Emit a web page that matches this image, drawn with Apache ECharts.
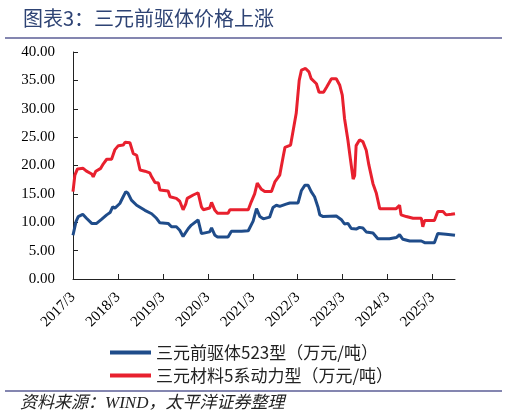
<!DOCTYPE html>
<html><head><meta charset="utf-8">
<script src="https://cdn.jsdelivr.net/npm/echarts@6/dist/echarts.min.js"></script>
<style>html,body{margin:0;padding:0;background:#fff}#c{width:507px;height:418px}</style>
</head><body><div id="c"></div>
<script>
// x positions are months elapsed since 2017/3
const xTickLabels = ['2017/3','2018/3','2019/3','2020/3','2021/3','2022/3','2023/3','2024/3','2025/3'];
const seriesNames = ['三元前驱体523型（万元/吨）','三元材料5系动力型（万元/吨）'];

const blueMonths = [0,0.8,1.4,2.6,3.6,5.0,6.3,7.6,9.0,9.9,10.6,11.2,12.5,13.4,14.1,14.7,15.6,17.0,19.2,21.0,22.3,23.2,25.4,26.3,27.6,28.5,29.4,29.9,30.8,31.6,33.4,34.3,34.8,36.5,37.0,37.9,38.6,41.4,42.3,45.0,46.8,48.1,49.0,49.9,50.8,52.5,53.4,54.3,55.2,56.9,57.9,60.1,61.0,61.9,62.8,63.6,64.5,65.4,65.9,66.8,70.3,71.6,72.5,73.4,74.3,75.6,76.5,77.4,78.3,80.1,81.4,84.5,86.3,87.2,88.1,89.9,93.0,93.9,96.5,97.4,99.6,102.0];
const blueValues = [7.7,10.1,11.0,11.4,10.7,9.8,9.8,10.5,11.3,11.7,12.7,12.5,13.3,14.5,15.4,15.1,13.9,13.0,12.1,11.5,10.7,9.9,9.8,9.2,9.2,8.6,7.5,7.2,8.9,9.5,10.4,8.0,7.7,8.3,9.0,7.7,7.4,7.4,8.4,8.4,8.5,10.2,12.4,11.0,10.6,10.9,12.6,13.0,12.8,13.2,13.4,13.4,15.6,16.5,16.5,15.4,14.5,12.7,11.3,11.0,11.1,10.5,9.7,9.8,8.9,8.8,9.1,9.0,8.3,8.1,7.1,7.1,7.3,7.8,7.0,6.7,6.7,6.4,6.4,8.0,7.9,7.7];

const redMonths = [0,0.5,1.2,2.7,3.6,5.0,5.4,6.1,7.4,8.1,9.0,10.3,11.2,12.1,13.4,13.9,15.2,16.1,17.0,17.9,19.2,20.5,21.0,21.9,22.8,23.2,25.4,25.9,27.6,28.5,29.4,30.1,30.5,32.1,33.4,34.3,34.8,36.5,37.0,37.9,38.6,41.4,41.9,46.8,47.6,48.5,49.2,50.3,51.2,53.0,53.9,55.2,56.1,56.6,58.1,58.8,59.6,60.4,61.0,62.1,63.0,63.6,65.0,65.7,66.9,67.7,69.0,70.3,71.2,71.9,72.5,73.4,74.1,74.8,75.2,75.6,76.5,77.4,78.3,79.0,80.1,81.0,81.9,86.3,87.2,87.6,89.0,90.8,93.0,93.4,93.9,96.5,97.4,98.8,99.6,101.0,102.0];
const redValues = [15.4,18.3,19.4,19.5,19.0,18.5,18.0,19.0,19.5,20.3,21.1,21.1,22.8,23.5,23.6,24.1,24.0,22.1,21.8,19.2,19.0,18.7,18.0,17.0,16.9,15.7,15.5,14.5,14.2,13.7,12.2,13.2,14.2,14.8,15.2,12.7,12.2,12.5,13.5,12.1,11.6,11.6,12.2,12.2,13.6,15.0,16.9,15.8,15.4,15.4,17.1,18.3,21.5,23.2,23.6,26.2,29.2,35.0,36.8,37.1,36.5,35.3,34.4,32.9,32.9,33.8,35.3,35.3,34.2,32.4,28.3,24.5,21.0,17.6,18.2,23.5,24.5,24.2,22.7,20.1,16.8,15.1,12.4,12.4,13.0,11.3,11.0,10.7,10.7,9.2,10.3,10.3,11.9,11.9,11.3,11.4,11.5];

const pair = (xs, ys) => xs.map((x, i) => [x, ys[i]]);
const tickVals = xTickLabels.map((_, i) => i * 12);

const chart = echarts.init(document.getElementById('c'), null, {renderer: 'canvas'});
chart.setOption({
  animation: false,
  backgroundColor: '#fff',
  title: {
    text: '图表3：三元前驱体价格上涨',
    left: 18, top: 3,
    textStyle: {fontFamily: 'Noto Sans CJK SC', fontSize: 20, fontWeight: 'normal', color: '#2e4374'}
  },
  graphic: [
    {type: 'line', shape: {x1: 5, y1: 38, x2: 502, y2: 38}, style: {stroke: '#5b5e96', lineWidth: 1.5}},
    {type: 'line', shape: {x1: 5, y1: 391, x2: 502, y2: 391}, style: {stroke: '#5b5e96', lineWidth: 1.5}},
    {type: 'text', left: 20, top: 395, style: {text: '资料来源：WIND，太平洋证券整理', font: 'italic 17px "Liberation Serif", "Noto Sans CJK SC"', fill: '#222'}}
  ],
  legend: {
    orient: 'vertical', left: 105, top: 339,
    itemWidth: 41, itemHeight: 4, itemGap: 6,
    icon: 'rect',
    textStyle: {fontFamily: 'Noto Sans CJK SC', fontSize: 17, color: '#222', lineHeight: 17},
    data: seriesNames
  },
  grid: {left: 73, right: 52, top: 52, bottom: 139},
  xAxis: {
    type: 'value', min: 0, max: 102, interval: 12,
    axisLine: {lineStyle: {color: '#222', width: 1}},
    axisTick: {inside: true, length: 5, lineStyle: {color: '#222'}, customValues: tickVals},
    splitLine: {show: false},
    axisLabel: {
      rotate: 45, margin: 16, color: '#000', fontFamily: 'Liberation Serif', fontSize: 15,
      customValues: tickVals,
      formatter: v => (v % 12 === 0 && v / 12 < xTickLabels.length) ? xTickLabels[v / 12] : ''
    }
  },
  yAxis: {
    type: 'value', min: 0, max: 40, interval: 5,
    axisLine: {show: true, lineStyle: {color: '#222', width: 1}},
    axisTick: {show: true, inside: true, length: 5, lineStyle: {color: '#222'}},
    splitLine: {show: false},
    axisLabel: {color: '#000', fontFamily: 'Liberation Serif', fontSize: 15, margin: 18, formatter: v => v.toFixed(2)}
  },
  series: [
    {name: seriesNames[0], type: 'line', data: pair(blueMonths, blueValues), showSymbol: false, color: '#1f4c8a', lineStyle: {width: 3, color: '#1f4c8a'}},
    {name: seriesNames[1], type: 'line', data: pair(redMonths, redValues), showSymbol: false, color: '#e8202e', lineStyle: {width: 3, color: '#e8202e'}}
  ]
});
</script>
</body></html>
